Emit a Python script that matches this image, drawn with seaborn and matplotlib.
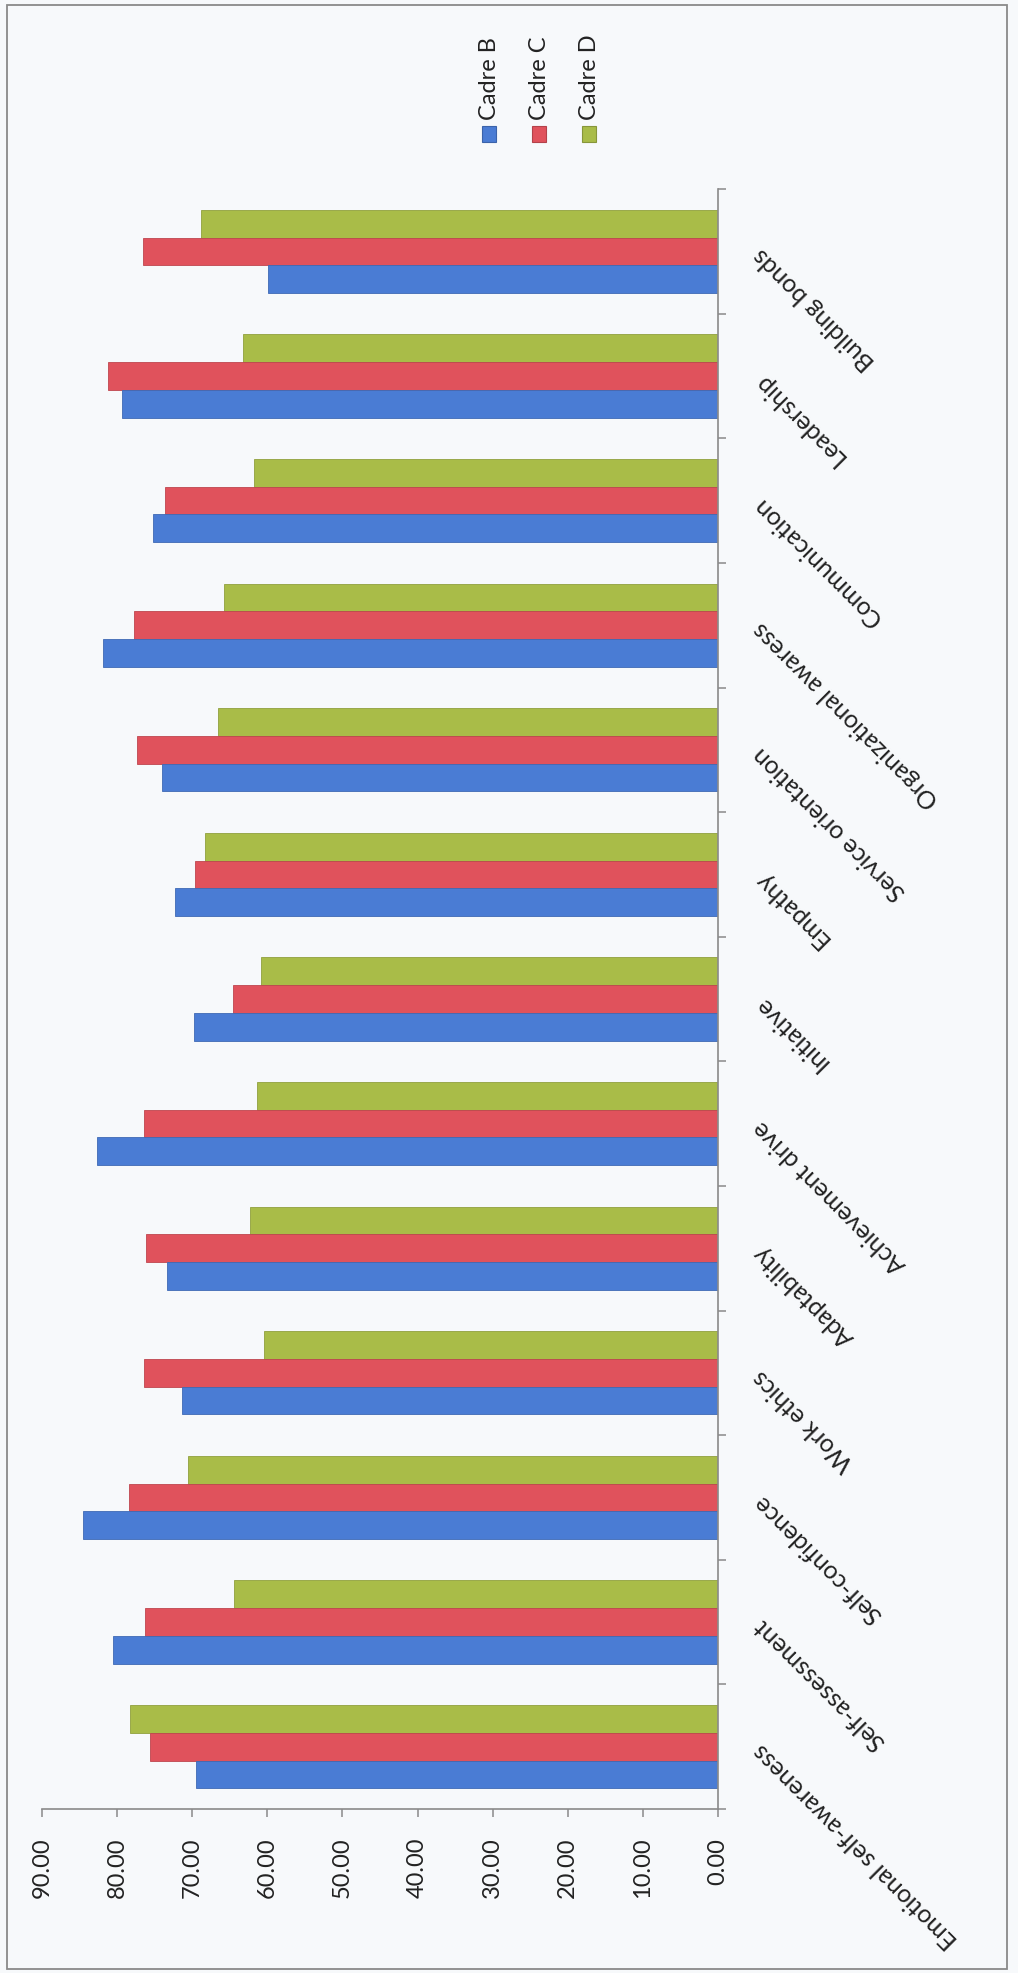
import matplotlib
matplotlib.use("Agg")
import matplotlib.pyplot as plt
from matplotlib.patches import Rectangle
from matplotlib.ticker import FixedLocator
import numpy as np
import pandas as pd
import seaborn as sns

# Competency scores per cadre, listed from first to last competency
categories = [
    "Emotional self-awareness", "Self-assessment", "Self-confidence",
    "Work ethics", "Adaptability", "Achievement drive", "Initiative",
    "Empathy", "Service orientation", "Organizational awaress",
    "Communication", "Leadership", "Building bonds",
]
cadre_b = [69.5, 80.6, 84.6, 71.4, 73.4, 82.7, 69.8, 72.3, 74.0, 81.9, 75.2, 79.3, 59.9]
cadre_c = [75.6, 76.3, 78.4, 76.4, 76.2, 76.4, 64.6, 69.7, 77.3, 77.8, 73.6, 81.2, 76.5]
cadre_d = [78.3, 64.5, 70.6, 60.4, 62.3, 61.4, 60.9, 68.3, 66.6, 65.8, 61.8, 63.2, 68.8]
series_names = ["Cadre B", "Cadre C", "Cadre D"]
series_colors = ["#4A7CD4", "#E0525C", "#A9BC48"]
value_ticks = [0, 10, 20, 30, 40, 50, 60, 70, 80, 90]

sns.set_theme(style="white")
plt.rcParams["font.family"] = ["Lato", "DejaVu Sans"]

df = pd.DataFrame({
    "category": categories * 3,
    "cadre": [series_names[0]] * len(categories)
             + [series_names[1]] * len(categories)
             + [series_names[2]] * len(categories),
    "value": cadre_b + cadre_c + cadre_d,
})

bg = "#F7F9FB"
axis_gray = "#8A8A8A"
text_color = "#222222"

fig = plt.figure(figsize=(10.18, 19.74), dpi=100, facecolor=bg)
ax = fig.add_axes([0.0413, 0.0831, 0.664, 0.8206])
ax.set_facecolor(bg)

palette = dict(zip(series_names, series_colors))
sns.barplot(
    data=df, x="value", y="category", hue="cadre",
    order=categories[::-1], hue_order=series_names[::-1],
    palette=palette, orient="h", width=0.667, saturation=1,
    legend=False, ax=ax, errorbar=None,
)
for patch in ax.patches:
    fc = np.array(patch.get_facecolor()[:3])
    patch.set_edgecolor(tuple(fc * 0.85))
    patch.set_linewidth(0.6)

# value axis runs right-to-left, zero at the category axis
ax.set_xlim(90, 0)
ax.set_xticks(value_ticks)
ax.set_xticklabels([f"{v:.2f}" for v in value_ticks])
ax.tick_params(axis="x", direction="out", length=6, width=1.1, color=axis_gray,
               labelrotation=90, labelsize=17, labelcolor=text_color, pad=14,
               bottom=True)
ax.set_xlabel("")
ax.set_ylabel("")

# category axis on the right, slanted labels, boundary tick marks
ax.yaxis.tick_right()
n = len(categories)
ax.set_yticks(range(n))
ax.set_yticklabels(categories[::-1], rotation=135, rotation_mode="anchor",
                   ha="right", va="center", fontsize=17.8, color=text_color)
ax.yaxis.set_minor_locator(FixedLocator(np.arange(-0.5, n, 1.0)))
ax.tick_params(axis="y", which="major", length=0, pad=28, right=True, left=False)
ax.tick_params(axis="y", which="minor", direction="out", length=6, width=1.1,
               color=axis_gray, right=True, left=False)
ax.set_ylim(n - 0.5, -0.5)

for side in ("top", "left"):
    ax.spines[side].set_visible(False)
for side in ("right", "bottom"):
    ax.spines[side].set_color(axis_gray)
    ax.spines[side].set_linewidth(1.2)
ax.grid(False)

# legend: swatch below, rotated name above
W, H = 1018, 1974
for i, (name, color) in enumerate(zip(series_names, series_colors)):
    cx = 489 + 50 * i
    fig.patches.append(Rectangle(((cx - 7) / W, 1 - 143 / H), 14 / W, 16 / H,
                                 transform=fig.transFigure, facecolor=color,
                                 edgecolor=tuple(np.array(matplotlib.colors.to_rgb(color)) * 0.8),
                                 linewidth=0.8))
    fig.text(cx / W, 1 - 120 / H, name, rotation=90, ha="center", va="bottom",
             fontsize=17, color=text_color)

# chart frame
fig.patches.append(Rectangle((7 / W, 4 / H), 1000 / W, 1 - 10 / H,
                             transform=fig.transFigure, fill=False,
                             edgecolor=axis_gray, linewidth=1.3))

fig.savefig("out.png", dpi=100, facecolor=bg)
